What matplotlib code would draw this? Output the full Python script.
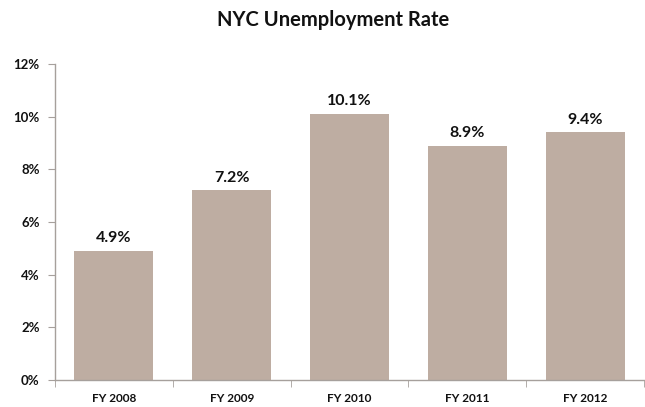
import matplotlib
matplotlib.use("Agg")
import matplotlib.pyplot as plt
from matplotlib.ticker import FuncFormatter, FixedLocator

categories = ["FY 2008", "FY 2009", "FY 2010", "FY 2011", "FY 2012"]
rates = [4.9, 7.2, 10.1, 8.9, 9.4]
yticks = [0, 2, 4, 6, 8, 10, 12]

plt.rcParams['font.family'] = ['Lato', 'DejaVu Sans']

fig = plt.figure(figsize=(6.45, 4.07), dpi=100)
ax = fig.add_axes([55/645, 1-380/407, 589/645, (380-64)/407])

x = list(range(len(categories)))
bars = ax.bar(x, rates, width=0.67, color="#BEADA2", zorder=2)
for xi, v in zip(x, rates):
    ax.annotate(f"{v:.1f}%", (xi, v), xytext=(0, 4), textcoords="offset points",
                ha="center", va="bottom", fontsize=11.5, fontweight="bold", color="#111111")

ax.set_xlim(-0.5, len(categories) - 0.5)
ax.set_ylim(0, 12)
ax.set_yticks(yticks)
ax.yaxis.set_major_formatter(FuncFormatter(lambda v, p: f"{v:.0f}%"))
ax.set_xticks(x)
ax.set_xticklabels(categories, fontsize=8.5, fontweight="bold", color="#111111")
ax.xaxis.set_minor_locator(FixedLocator([i - 0.5 for i in range(len(categories) + 1)]))
ax.tick_params(axis="x", which="major", length=0, pad=9)
ax.tick_params(axis="x", which="minor", length=5, color="#A6A09C", direction="out")
ax.tick_params(axis="y", length=5, color="#A6A09C", direction="out", labelsize=9.5, pad=6)
for lab in ax.get_yticklabels():
    lab.set_fontweight("bold")
    lab.set_color("#111111")

for s in ["top", "right"]:
    ax.spines[s].set_visible(False)
for s in ["left", "bottom"]:
    ax.spines[s].set_color("#A6A09C")
    ax.spines[s].set_linewidth(1.0)

fig.text(333/645, 1-20/407, "NYC Unemployment Rate", ha="center", va="center",
         fontsize=14.5, fontweight="bold", color="#111111")

fig.savefig("out.png", dpi=100)
